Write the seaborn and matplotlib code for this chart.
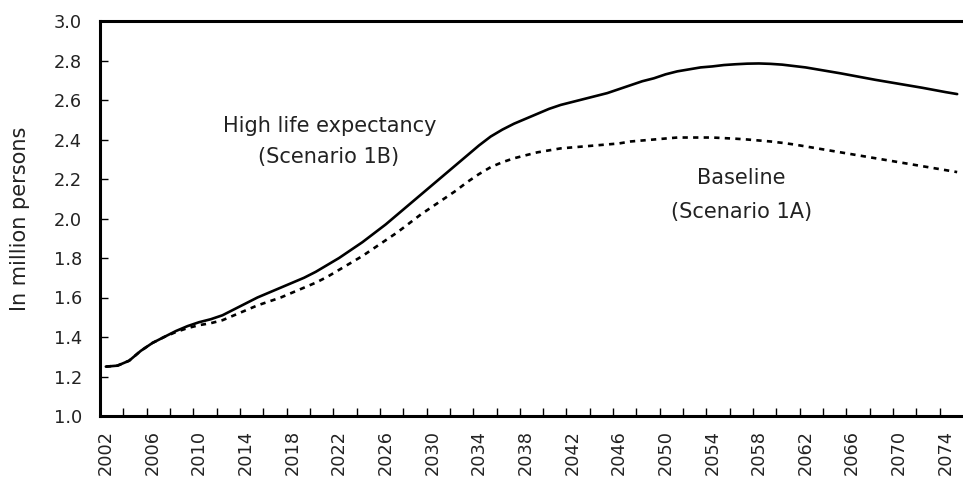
import matplotlib
matplotlib.use("Agg")
import matplotlib.pyplot as plt
import numpy as np
import pandas as pd
import seaborn as sns

# data (million persons)
years = list(range(2002, 2076))

high_life = [
    1.25, 1.255, 1.28, 1.33, 1.37, 1.40, 1.43, 1.455, 1.475, 1.49,
    1.51, 1.54, 1.57, 1.60, 1.625, 1.65, 1.675, 1.70, 1.73, 1.765,
    1.80, 1.84, 1.88, 1.925, 1.97, 2.02, 2.07, 2.12, 2.17, 2.22,
    2.27, 2.32, 2.37, 2.415, 2.45, 2.48, 2.505, 2.53, 2.555, 2.575,
    2.59, 2.605, 2.62, 2.635, 2.655, 2.675, 2.695, 2.71, 2.73, 2.745,
    2.755, 2.765, 2.77, 2.777, 2.781, 2.784, 2.785, 2.783, 2.779, 2.772,
    2.765, 2.755, 2.745, 2.735, 2.724, 2.713, 2.702, 2.692, 2.682, 2.672,
    2.662, 2.651, 2.64, 2.63,
]

baseline = [
    1.25, 1.255, 1.28, 1.33, 1.37, 1.40, 1.425, 1.445, 1.46, 1.47,
    1.485, 1.51, 1.535, 1.56, 1.58, 1.60, 1.625, 1.65, 1.675, 1.705,
    1.74, 1.775, 1.81, 1.85, 1.89, 1.93, 1.975, 2.02, 2.06, 2.10,
    2.14, 2.185, 2.225, 2.26, 2.285, 2.305, 2.32, 2.335, 2.345, 2.355,
    2.36, 2.365, 2.37, 2.375, 2.38, 2.39, 2.395, 2.40, 2.405, 2.41,
    2.41, 2.41, 2.41, 2.407, 2.404, 2.40, 2.395, 2.39, 2.383, 2.375,
    2.365, 2.355, 2.345, 2.335, 2.325, 2.315, 2.305, 2.295, 2.285, 2.275,
    2.265, 2.255, 2.245, 2.235,
]

df = pd.DataFrame({
    "year": years * 2,
    "value": high_life + baseline,
    "scenario": ["high"] * len(years) + ["base"] * len(years),
})

sns.set_style("white", {"xtick.bottom": True, "ytick.left": True})
plt.rcParams["font.family"] = ["DejaVu Sans"]

fig = plt.figure(figsize=(9.63, 4.84), dpi=100)
ax = fig.add_axes([100 / 963, 1 - 416 / 484, 1 - 100 / 963, (416 - 21) / 484])

sns.lineplot(data=df, x="year", y="value", style="scenario",
             dashes={"high": "", "base": (2, 2)}, color="black",
             linewidth=1.9, legend=False, ax=ax)

yticks = np.arange(1.0, 3.01, 0.2)
ax.set_xlim(2001.5, 2075.5)
ax.set_ylim(1.0, 3.0)
ax.set_yticks(yticks)
ax.set_yticklabels([f"{v:.1f}" for v in yticks], fontsize=12.8, color="#222222")
ax.set_xticks(range(2002, 2076, 4))
ax.set_xticklabels([str(y) for y in range(2002, 2076, 4)], rotation=90,
                   fontsize=12.8, color="#222222")
ax.set_xticks(np.arange(2003.5, 2075, 2), minor=True)
ax.tick_params(axis="x", which="major", bottom=True, length=0, pad=10)
ax.tick_params(axis="x", which="minor", bottom=True, direction="in",
               length=5.5, width=1, color="black")
ax.tick_params(axis="y", which="major", left=True, direction="in",
               length=6, width=1, color="black", pad=13)
ax.set_xlabel("")
ax.set_ylabel("In million persons", fontsize=15, color="#222222")
ax.yaxis.set_label_coords(-70 / 863, 0.5)

for side in ["left", "bottom", "top"]:
    ax.spines[side].set_color("black")
    ax.spines[side].set_linewidth(2.2)
ax.spines["right"].set_visible(False)

ax.text(2021.2, 2.468, "High life expectancy", ha="center", va="center", fontsize=15, color="#222222")
ax.text(2021.1, 2.311, "(Scenario 1B)", ha="center", va="center", fontsize=15, color="#222222")
ax.text(2056.5, 2.205, "Baseline", ha="center", va="center", fontsize=15, color="#222222")
ax.text(2056.5, 2.033, "(Scenario 1A)", ha="center", va="center", fontsize=15, color="#222222")

fig.savefig("out.png", dpi=100)
